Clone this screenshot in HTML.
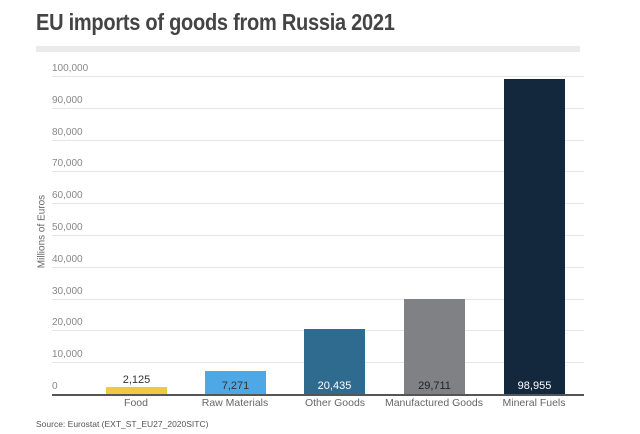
<!DOCTYPE html>
<html><head><style>
body{margin:0;width:640px;height:434px;background:#fff;font-family:"Liberation Sans",sans-serif;position:relative;overflow:hidden}
.t{position:absolute;white-space:nowrap}
.g{position:absolute;left:52px;width:532px;height:1px;background:#e6e6e6}
.yl{position:absolute;left:52px;font-size:10px;color:#888}
.b{position:absolute;width:61px}
.v{position:absolute;width:61px;text-align:center;font-size:11px}
.c{position:absolute;width:120px;text-align:center;font-size:10.5px;color:#666;top:397px}
</style></head><body>
<div class="t" style="left:36px;top:9px;font-size:23px;font-weight:bold;color:#444;letter-spacing:-0.3px;transform:scaleX(0.87);transform-origin:0 0">EU imports of goods from Russia 2021</div>
<div style="position:absolute;left:36px;top:46px;width:544px;height:6px;background:#ebebeb"></div>
<div class="g" style="top:76px"></div><div class="g" style="top:108px"></div><div class="g" style="top:140px"></div><div class="g" style="top:171px"></div><div class="g" style="top:203px"></div><div class="g" style="top:235px"></div><div class="g" style="top:267px"></div><div class="g" style="top:299px"></div><div class="g" style="top:330px"></div><div class="g" style="top:362px"></div>
<div class="yl" style="top:63px">100,000</div><div class="yl" style="top:95px">90,000</div><div class="yl" style="top:127px">80,000</div><div class="yl" style="top:158px">70,000</div><div class="yl" style="top:190px">60,000</div><div class="yl" style="top:222px">50,000</div><div class="yl" style="top:254px">40,000</div><div class="yl" style="top:286px">30,000</div><div class="yl" style="top:317px">20,000</div><div class="yl" style="top:349px">10,000</div><div class="yl" style="top:381px">0</div>
<div class="t" style="left:-8px;top:226px;font-size:10px;color:#666;transform:rotate(-90deg);width:100px;text-align:center">Millions of Euros</div>
<div class="b" style="left:106px;top:387px;height:7px;background:#f2c744"></div>
<div class="b" style="left:205px;top:371px;height:23px;background:#4fa8e6"></div>
<div class="b" style="left:304px;top:329px;height:65px;background:#2f6a8f"></div>
<div class="b" style="left:404px;top:299px;height:95px;background:#808184"></div>
<div class="b" style="left:504px;top:79px;height:315px;background:#13273d"></div>
<div style="position:absolute;left:52px;top:394px;width:532px;height:2px;background:#555"></div>
<div class="v" style="left:106px;top:374px;color:#333">2,125</div>
<div class="v" style="left:205px;top:380px;color:#333">7,271</div>
<div class="v" style="left:304px;top:380px;color:#fff">20,435</div>
<div class="v" style="left:404px;top:380px;color:#222">29,711</div>
<div class="v" style="left:504px;top:380px;color:#fff">98,955</div>
<div class="c" style="left:76px">Food</div><div class="c" style="left:175px">Raw Materials</div><div class="c" style="left:275px">Other Goods</div><div class="c" style="left:374px">Manufactured Goods</div><div class="c" style="left:474px">Mineral Fuels</div>
<div class="t" style="left:36px;top:419px;font-size:8.5px;color:#555">Source: Eurostat (EXT_ST_EU27_2020SITC)</div>
</body></html>
